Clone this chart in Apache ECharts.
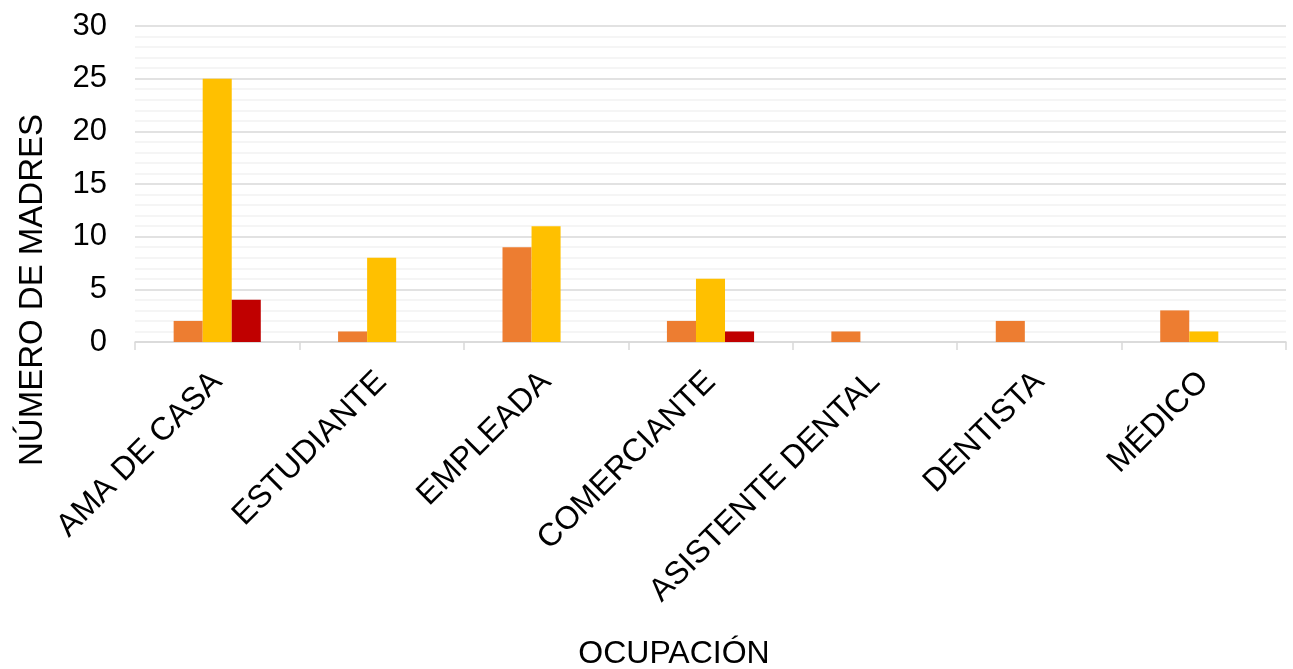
<!DOCTYPE html>
<html>
<head>
<meta charset="utf-8">
<script src="https://cdn.jsdelivr.net/npm/echarts@6/dist/echarts.min.js"></script>
<style>
html,body{margin:0;padding:0;background:#fff;}
#chart{width:1293px;height:669px;}
</style>
</head>
<body>
<div id="chart"></div>
<script>
const categories = ['AMA DE CASA','ESTUDIANTE','EMPLEADA','COMERCIANTE','ASISTENTE DENTAL','DENTISTA','MÉDICO'];
const seriesOrange = [2, 1, 9, 2, 1, 2, 3];
const seriesYellow = [25, 8, 11, 6, null, null, 1];
const seriesRed = [4, null, null, 1, null, null, null];
const yTitle = 'NÚMERO DE MADRES';
const xTitle = 'OCUPACIÓN';

const FONT = '"Liberation Sans", Arial, sans-serif';
const chart = echarts.init(document.getElementById('chart'), null, {renderer: 'canvas'});
chart.setOption({
  animation: false,
  backgroundColor: '#fff',
  grid: {left: 135, right: 7, top: 26, bottom: 327, containLabel: false},
  xAxis: {
    type: 'category',
    data: categories,
    axisLine: {show: true, lineStyle: {color: '#D9D9D9', width: 1.5}},
    axisTick: {show: true, length: 8, lineStyle: {color: '#D9D9D9', width: 1.5}},
    axisLabel: {rotate: 45, color: '#000', fontSize: 32, fontFamily: FONT, margin: 35, interval: 0}
  },
  yAxis: {
    type: 'value',
    min: 0, max: 30, interval: 5,
    axisLine: {show: false},
    axisTick: {show: false},
    axisLabel: {color: '#000', fontSize: 31, fontFamily: FONT, margin: 28},
    splitLine: {show: true, lineStyle: {color: '#D9D9D9', width: 1.5}},
    minorTick: {show: false, splitNumber: 5},
    minorSplitLine: {show: true, lineStyle: {color: '#F2F2F2', width: 1.5}}
  },
  series: [
    {type: 'bar', data: seriesOrange, barGap: '0%', barCategoryGap: '47%', itemStyle: {color: '#ED7D31'}},
    {type: 'bar', data: seriesYellow, barGap: '0%', barCategoryGap: '47%', itemStyle: {color: '#FFC000'}},
    {type: 'bar', data: seriesRed, barGap: '0%', barCategoryGap: '47%', itemStyle: {color: '#C00000'}}
  ],
  graphic: [
    {type: 'text', x: 33, y: 290, rotation: Math.PI/2,
     style: {text: yTitle, fontSize: 33, fontFamily: FONT, fill: '#000', textAlign: 'center', textVerticalAlign: 'middle'}},
    {type: 'text', x: 674, y: 654,
     style: {text: xTitle, fontSize: 32, fontFamily: FONT, fill: '#000', textAlign: 'center', textVerticalAlign: 'middle'}}
  ]
});
</script>
</body>
</html>
